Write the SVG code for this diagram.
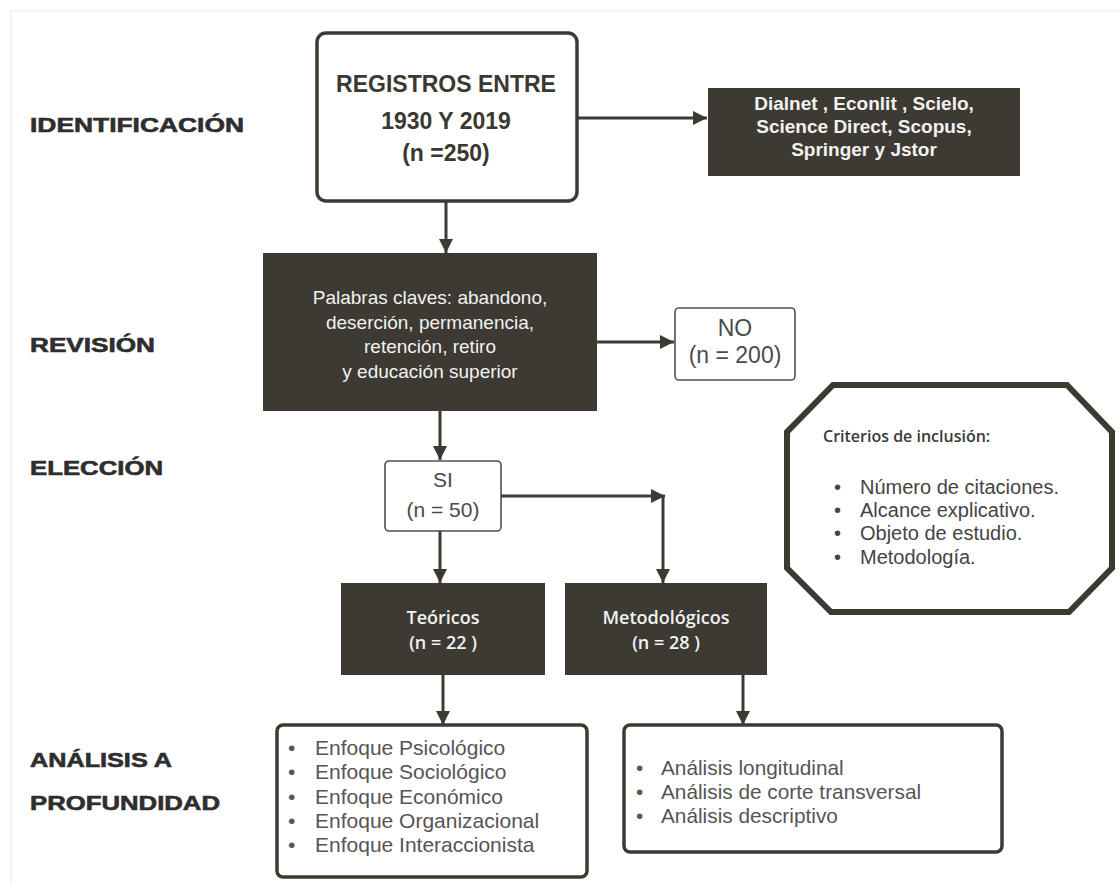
<svg xmlns="http://www.w3.org/2000/svg" width="1120" height="886" viewBox="0 0 1120 886">
<defs>
<marker id="ah" markerUnits="userSpaceOnUse" markerWidth="16" markerHeight="16" viewBox="0 0 16 16" refX="15" refY="8" orient="auto">
<path d="M1,1 L15,8 L1,15 Z" fill="#3c3b33"/>
</marker>
</defs>
<style>
.lbl{font-family:"Liberation Sans",Arial,sans-serif;font-weight:bold;font-size:20px;fill:#2e2e2e;stroke:#2e2e2e;stroke-width:0.6}
.dark{fill:#3c3a32;stroke:none}
.wt{font-family:"Liberation Sans",Arial,sans-serif;fill:#f2f2f2;text-anchor:middle}
.wo{font-family:"Open Sans","Liberation Sans",sans-serif;fill:#f2f2f2;text-anchor:middle}
.gt{font-family:"Liberation Sans",Arial,sans-serif;fill:#4a4a4a}
.thin{fill:#fff;stroke:#505050;stroke-width:1.6}
.thick{fill:#fff;stroke:#3c3b33;stroke-width:3.5}
.conn{fill:none;stroke:#3c3b33;stroke-width:3}
.bl{font-family:"Liberation Sans",Arial,sans-serif;font-size:21px;fill:#555}
.br{font-family:"Liberation Sans",Arial,sans-serif;font-size:20.8px;fill:#555}
.cl{font-family:"Liberation Sans",Arial,sans-serif;font-size:20px;fill:#444}
</style>
<rect x="11" y="11" width="1120" height="900" fill="none" stroke="#efefef" stroke-width="1.5"/>

<g id="stage-labels">
<text class="lbl" x="30" y="132" textLength="214" lengthAdjust="spacingAndGlyphs">IDENTIFICACIÓN</text>
<text class="lbl" x="30" y="352" textLength="125" lengthAdjust="spacingAndGlyphs">REVISIÓN</text>
<text class="lbl" x="30" y="475" textLength="133" lengthAdjust="spacingAndGlyphs">ELECCIÓN</text>
<text class="lbl" x="30" y="767" textLength="142" lengthAdjust="spacingAndGlyphs">ANÁLISIS A</text>
<text class="lbl" x="30" y="810" textLength="190" lengthAdjust="spacingAndGlyphs">PROFUNDIDAD</text>
</g>

<g id="registros">
<rect class="thick" x="317" y="33" width="260" height="168" rx="9" stroke-width="4"/>
<text x="446" y="92" text-anchor="middle" font-family="Liberation Sans, Arial, sans-serif" font-weight="bold" font-size="23" fill="#3a3830">REGISTROS ENTRE</text>
<text x="446" y="129" text-anchor="middle" font-family="Liberation Sans, Arial, sans-serif" font-weight="bold" font-size="23" fill="#3a3830">1930 Y 2019</text>
<text x="446" y="161" text-anchor="middle" font-family="Liberation Sans, Arial, sans-serif" font-weight="bold" font-size="23" fill="#3a3830">(n =250)</text>
</g>

<g id="bases">
<rect class="dark" x="708" y="88" width="312" height="88"/>
<text class="wt" x="864" y="110" font-size="19" font-weight="bold">Dialnet , Econlit , Scielo,</text>
<text class="wt" x="864" y="133" font-size="19" font-weight="bold">Science Direct, Scopus,</text>
<text class="wt" x="864" y="156" font-size="19" font-weight="bold">Springer y Jstor</text>
</g>

<g id="palabras">
<rect class="dark" x="263" y="253" width="334" height="158"/>
<text class="wt" x="430" y="304" font-size="19">Palabras claves: abandono,</text>
<text class="wt" x="430" y="329" font-size="19">deserción,  permanencia,</text>
<text class="wt" x="430" y="353" font-size="19">retención, retiro</text>
<text class="wt" x="430" y="378" font-size="19">y educación superior</text>
</g>

<g id="no">
<rect class="thin" x="675" y="308" width="120" height="72" rx="4"/>
<text class="gt" x="735" y="336" text-anchor="middle" font-size="23">NO</text>
<text class="gt" x="735" y="363" text-anchor="middle" font-size="23">(n = 200)</text>
</g>

<g id="si">
<rect class="thin" x="385" y="461" width="116" height="70" rx="4"/>
<text class="gt" x="443" y="487" text-anchor="middle" font-size="21">SI</text>
<text class="gt" x="443" y="517" text-anchor="middle" font-size="21">(n = 50)</text>
</g>

<g id="teoricos">
<rect class="dark" x="341" y="583" width="204" height="92"/>
<text class="wo" x="443" y="624" font-size="18" font-weight="600">Teóricos</text>
<text class="wo" x="443" y="649" font-size="18" font-weight="600">(n = 22  )</text>
</g>

<g id="metodologicos">
<rect class="dark" x="565" y="583" width="202" height="92"/>
<text class="wo" x="666" y="624" font-size="18" font-weight="600">Metodológicos</text>
<text class="wo" x="666" y="649" font-size="18" font-weight="600">(n = 28 )</text>
</g>

<g id="criterios">
<polygon points="833,385 1067,385 1112,432 1112,568 1069,612 831,612 787,568 787,432" fill="#fff" stroke="#3c3b33" stroke-width="6" stroke-linejoin="miter"/>
<text x="823" y="442" font-family="Open Sans, Liberation Sans, sans-serif" font-weight="600" font-size="16" fill="#3a3a3a">Criterios de inclusión:</text>
<text class="cl" x="834" y="494">•<tspan x="860">Número de citaciones.</tspan></text>
<text class="cl" x="834" y="517">•<tspan x="860">Alcance explicativo.</tspan></text>
<text class="cl" x="834" y="540">•<tspan x="860">Objeto de estudio.</tspan></text>
<text class="cl" x="834" y="564">•<tspan x="860">Metodología.</tspan></text>
</g>

<g id="enfoques">
<rect class="thick" x="277" y="725" width="310" height="152" rx="6"/>
<text class="bl" x="288" y="755">•<tspan x="315">Enfoque Psicológico</tspan></text>
<text class="bl" x="288" y="779">•<tspan x="315">Enfoque Sociológico</tspan></text>
<text class="bl" x="288" y="804">•<tspan x="315">Enfoque Económico</tspan></text>
<text class="bl" x="288" y="828">•<tspan x="315">Enfoque Organizacional</tspan></text>
<text class="bl" x="288" y="852">•<tspan x="315">Enfoque Interaccionista</tspan></text>
</g>

<g id="analisis">
<rect class="thick" x="624" y="725" width="378" height="127" rx="6"/>
<text class="br" x="636" y="775">•<tspan x="661">Análisis longitudinal</tspan></text>
<text class="br" x="636" y="799">•<tspan x="661">Análisis de corte transversal</tspan></text>
<text class="br" x="636" y="823">•<tspan x="661">Análisis descriptivo</tspan></text>
</g>

<g id="connectors">
<line class="conn" x1="577" y1="118" x2="707" y2="118" marker-end="url(#ah)"/>
<line class="conn" x1="446" y1="201" x2="446" y2="253" marker-end="url(#ah)"/>
<line class="conn" x1="597" y1="342" x2="674" y2="342" marker-end="url(#ah)"/>
<line class="conn" x1="440" y1="411" x2="440" y2="460" marker-end="url(#ah)"/>
<line class="conn" x1="501" y1="496" x2="665" y2="496" marker-end="url(#ah)"/>
<line class="conn" x1="663" y1="496" x2="663" y2="583" marker-end="url(#ah)"/>
<line class="conn" x1="440" y1="531" x2="440" y2="583" marker-end="url(#ah)"/>
<line class="conn" x1="443" y1="675" x2="443" y2="725" marker-end="url(#ah)"/>
<line class="conn" x1="743" y1="675" x2="743" y2="725" marker-end="url(#ah)"/>
</g>
</svg>
